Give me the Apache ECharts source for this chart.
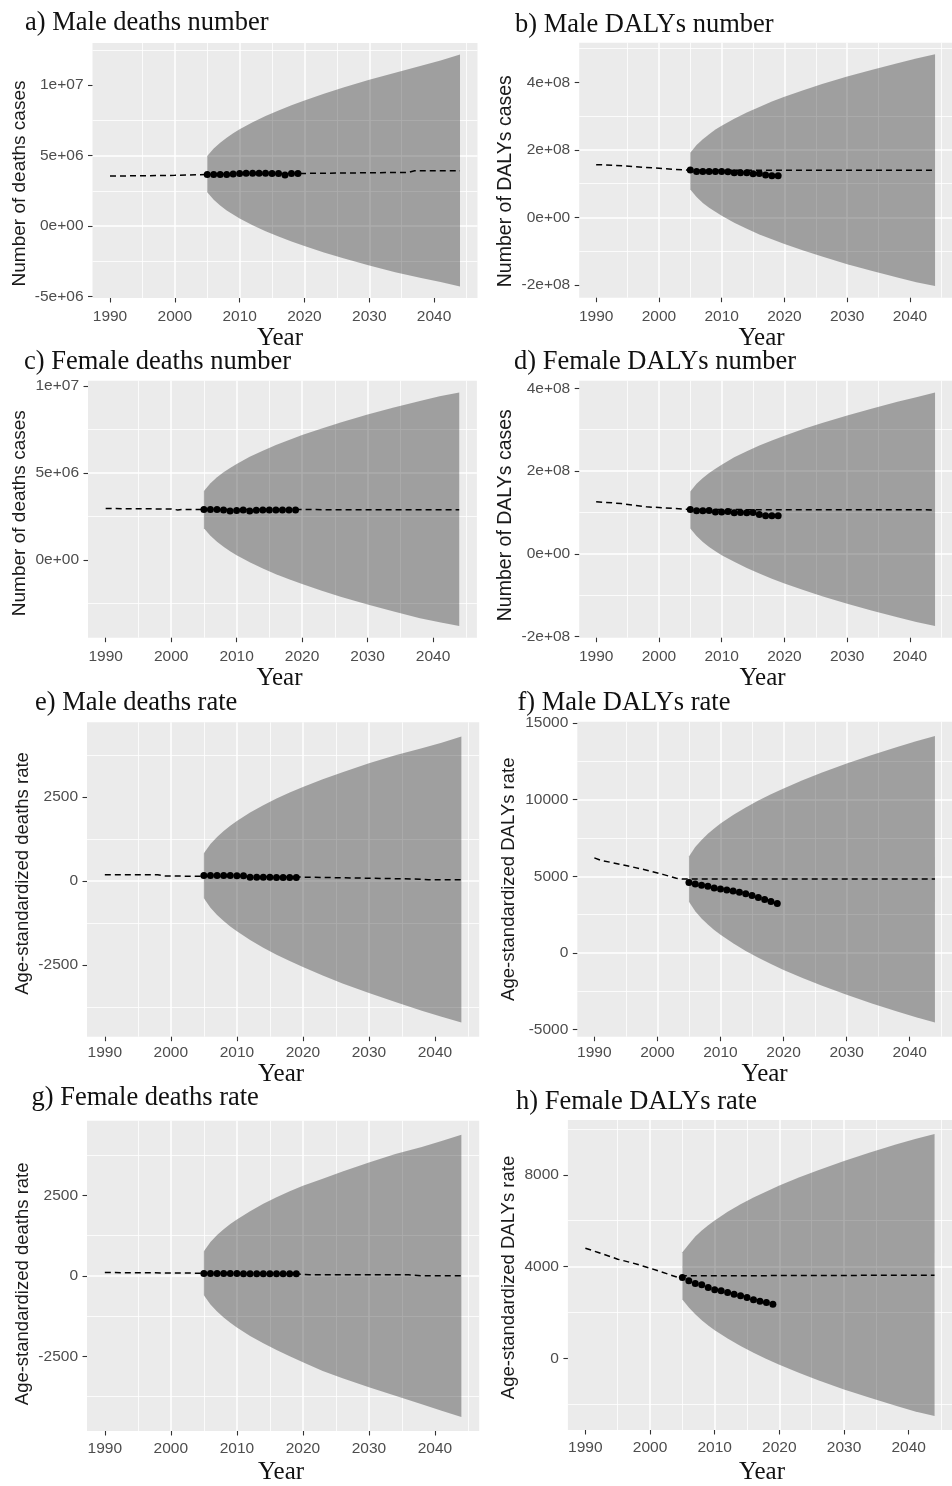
<!DOCTYPE html>
<html>
<head>
<meta charset="utf-8">
<script src="https://cdn.jsdelivr.net/npm/echarts@6/dist/echarts.min.js"></script>
<style>
  html, body { margin: 0; padding: 0; background: #ffffff; }
  #chart { width: 952px; height: 1486px; }
</style>
</head>
<body>
<div id="chart"></div>
<script>
// ---------- data ----------
// years at which the forecast interval is sampled
const bandYears = [2005, 2006, 2007, 2008, 2009, 2010, 2012, 2014, 2016, 2018, 2020, 2023, 2026, 2030, 2034, 2038, 2041, 2044];
// observed years (black points)
const pointYears = [2005, 2006, 2007, 2008, 2009, 2010, 2011, 2012, 2013, 2014, 2015, 2016, 2017, 2018, 2019];

// a) Male deaths number
const maleDeathsUpper = [4.98e6, 5.51e6, 5.92e6, 6.27e6, 6.59e6, 6.86e6, 7.36e6, 7.80e6, 8.20e6, 8.57e6, 8.91e6, 9.38e6, 9.82e6, 10.37e6, 10.88e6, 11.37e6, 11.75e6, 12.16e6];
const maleDeathsLower = [2.40e6, 1.87e6, 1.46e6, 1.11e6, 0.82e6, 0.54e6, 0.06e6, -0.36e6, -0.74e6, -1.09e6, -1.41e6, -1.86e6, -2.28e6, -2.79e6, -3.26e6, -3.67e6, -3.95e6, -4.27e6];
const maleDeathsTrend = [[1990, 3.55e6], [2000, 3.60e6], [2005, 3.66e6], [2020, 3.74e6], [2036, 3.81e6], [2037, 3.93e6], [2044, 3.93e6]];
const maleDeathsPoints = [3.66e6, 3.66e6, 3.66e6, 3.67e6, 3.69e6, 3.74e6, 3.75e6, 3.75e6, 3.75e6, 3.75e6, 3.74e6, 3.73e6, 3.63e6, 3.73e6, 3.74e6];
const maleDeathsTicks = [-5e6, 0, 5e6, 1e7];
const maleDeathsTickLabels = ['-5e+06', '0e+00', '5e+06', '1e+07'];

// b) Male DALYs number
const maleDalysUpper = [1.915e8, 2.141e8, 2.314e8, 2.46e8, 2.599e8, 2.715e8, 2.921e8, 3.103e8, 3.268e8, 3.429e8, 3.57e8, 3.766e8, 3.946e8, 4.169e8, 4.375e8, 4.568e8, 4.705e8, 4.83e8];
const maleDalysLower = [0.825e8, 0.599e8, 0.426e8, 0.28e8, 0.161e8, 0.045e8, -0.161e8, -0.343e8, -0.508e8, -0.649e8, -0.79e8, -0.986e8, -1.166e8, -1.389e8, -1.595e8, -1.788e8, -1.925e8, -2.04e8];
const maleDalysTrend = [[1990, 1.56e8], [1993, 1.54e8], [2005, 1.39e8], [2044, 1.39e8]];
const maleDalysPoints = [1.40e8, 1.36e8, 1.36e8, 1.36e8, 1.36e8, 1.36e8, 1.35e8, 1.32e8, 1.32e8, 1.32e8, 1.29e8, 1.30e8, 1.25e8, 1.23e8, 1.23e8];
const maleDalysTicks = [-2e8, 0, 2e8, 4e8];
const maleDalysTickLabels = ['-2e+08', '0e+00', '2e+08', '4e+08'];

// c) Female deaths number
const femaleDeathsUpper = [3.98e6, 4.42e6, 4.76e6, 5.05e6, 5.30e6, 5.53e6, 5.94e6, 6.29e6, 6.62e6, 6.91e6, 7.19e6, 7.57e6, 7.93e6, 8.37e6, 8.77e6, 9.15e6, 9.42e6, 9.64e6];
const femaleDeathsLower = [1.84e6, 1.40e6, 1.06e6, 0.77e6, 0.52e6, 0.29e6, -0.12e6, -0.47e6, -0.80e6, -1.09e6, -1.37e6, -1.75e6, -2.11e6, -2.55e6, -2.95e6, -3.33e6, -3.56e6, -3.78e6];
const femaleDeathsTrend = [[1990, 2.97e6], [2000, 2.94e6], [2001, 2.89e6], [2002, 2.92e6], [2005, 2.91e6], [2044, 2.90e6]];
const femaleDeathsPoints = [2.91e6, 2.91e6, 2.91e6, 2.89e6, 2.83e6, 2.85e6, 2.89e6, 2.83e6, 2.87e6, 2.89e6, 2.89e6, 2.89e6, 2.89e6, 2.89e6, 2.89e6];
const femaleDeathsTicks = [0, 5e6, 1e7];
const femaleDeathsTickLabels = ['0e+00', '5e+06', '1e+07'];

// d) Female DALYs number
const femaleDalysUpper = [1.506e8, 1.691e8, 1.832e8, 1.952e8, 2.057e8, 2.152e8, 2.331e8, 2.48e8, 2.615e8, 2.739e8, 2.854e8, 3.014e8, 3.162e8, 3.344e8, 3.513e8, 3.671e8, 3.783e8, 3.90e8];
const femaleDalysLower = [0.614e8, 0.429e8, 0.288e8, 0.168e8, 0.063e8, -0.032e8, -0.191e8, -0.34e8, -0.475e8, -0.599e8, -0.714e8, -0.874e8, -1.022e8, -1.204e8, -1.373e8, -1.531e8, -1.643e8, -1.743e8];
const femaleDalysTrend = [[1990, 1.26e8], [1994, 1.215e8], [1998, 1.135e8], [2000, 1.12e8], [2005, 1.07e8], [2044, 1.062e8]];
const femaleDalysPoints = [1.07e8, 1.04e8, 1.04e8, 1.05e8, 1.01e8, 1.01e8, 1.02e8, 0.99e8, 1.00e8, 0.99e8, 1.00e8, 0.95e8, 0.92e8, 0.92e8, 0.92e8];
const femaleDalysTicks = [-2e8, 0, 2e8, 4e8];
const femaleDalysTickLabels = ['-2e+08', '0e+00', '2e+08', '4e+08'];

// e) Male deaths rate
const maleDeathRateUpper = [820, 1095, 1306, 1484, 1640, 1781, 2030, 2249, 2446, 2627, 2795, 3020, 3233, 3496, 3735, 3947, 4110, 4291];
const maleDeathRateLower = [-520, -799, -1014, -1196, -1356, -1501, -1760, -1989, -2196, -2387, -2565, -2820, -3053, -3336, -3605, -3867, -4040, -4212];
const maleDeathRateTrend = [[1990, 180], [1998, 180], [1999, 145], [2005, 135], [2020, 110], [2038, 50], [2039, 30], [2044, 30]];
const maleDeathRatePoints = [160, 160, 160, 160, 160, 150, 150, 110, 110, 110, 110, 100, 100, 100, 100];
const maleDeathRateTicks = [-2500, 0, 2500];
const maleDeathRateTickLabels = ['-2500', '0', '2500'];

// f) Male DALYs rate
const maleDalyRateUpper = [6290, 6903, 7373, 7770, 8119, 8435, 8996, 9490, 9937, 10348, 10730, 11261, 11752, 12357, 12916, 13440, 13812, 14150];
const maleDalyRateLower = [3330, 2717, 2247, 1850, 1501, 1185, 624, 130, -317, -728, -1110, -1641, -2132, -2737, -3296, -3820, -4192, -4534];
const maleDalyRateTrend = [[1990, 6200], [1991, 6045], [1995, 5700], [1998, 5430], [2001, 5105], [2003, 4870], [2004, 4820], [2044, 4820]];
const maleDalyRatePoints = [4600, 4500, 4410, 4340, 4240, 4170, 4100, 4040, 3950, 3860, 3740, 3620, 3480, 3360, 3230];
const maleDalyRateTicks = [-5000, 0, 5000, 10000, 15000];
const maleDalyRateTickLabels = ['-5000', '0', '5000', '10000', '15000'];

// g) Female deaths rate
const femaleDeathRateUpper = [765, 1049, 1266, 1448, 1608, 1753, 2009, 2236, 2441, 2628, 2795, 3016, 3243, 3523, 3782, 3999, 4190, 4380];
const femaleDeathRateLower = [-605, -889, -1106, -1292, -1456, -1603, -1865, -2096, -2305, -2498, -2685, -2956, -3183, -3463, -3722, -3989, -4190, -4380];
const femaleDeathRateTrend = [[1990, 103], [2005, 82], [2019, 62], [2021, 31], [2036, 31], [2038, 0], [2044, 0]];
const femaleDeathRatePoints = [75, 72, 72, 70, 70, 70, 68, 68, 66, 66, 64, 64, 62, 62, 62];
const femaleDeathRateTicks = [-2500, 0, 2500];
const femaleDeathRateTickLabels = ['-2500', '0', '2500'];

// h) Female DALYs rate
const femaleDalyRateUpper = [4630, 4979, 5309, 5570, 5800, 6008, 6388, 6713, 7008, 7278, 7530, 7880, 8203, 8602, 8970, 9315, 9560, 9772];
const femaleDalyRateLower = [2570, 2221, 1931, 1670, 1440, 1232, 872, 547, 252, -18, -270, -620, -943, -1342, -1710, -2055, -2300, -2497];
const femaleDalyRateTrend = [[1990, 4805], [1992, 4617], [1995, 4326], [1998, 4108], [2001, 3847], [2004, 3560], [2005, 3600], [2044, 3630]];
const femaleDalyRatePoints = [3528, 3383, 3267, 3209, 3093, 2992, 2949, 2875, 2803, 2730, 2657, 2555, 2497, 2439, 2366];
const femaleDalyRateTicks = [0, 4000, 8000];
const femaleDalyRateTickLabels = ['0', '4000', '8000'];

// ---------- panel definitions ----------
const panels = [
  { title: 'a) Male deaths number', yName: 'Number of deaths cases', upper: maleDeathsUpper, lower: maleDeathsLower, trend: maleDeathsTrend, points: maleDeathsPoints, ticks: maleDeathsTicks, tickLabels: maleDeathsTickLabels },
  { title: 'b) Male DALYs number', yName: 'Number of DALYs cases', upper: maleDalysUpper, lower: maleDalysLower, trend: maleDalysTrend, points: maleDalysPoints, ticks: maleDalysTicks, tickLabels: maleDalysTickLabels },
  { title: 'c) Female deaths number', yName: 'Number of deaths cases', upper: femaleDeathsUpper, lower: femaleDeathsLower, trend: femaleDeathsTrend, points: femaleDeathsPoints, ticks: femaleDeathsTicks, tickLabels: femaleDeathsTickLabels },
  { title: 'd) Female DALYs number', yName: 'Number of DALYs cases', upper: femaleDalysUpper, lower: femaleDalysLower, trend: femaleDalysTrend, points: femaleDalysPoints, ticks: femaleDalysTicks, tickLabels: femaleDalysTickLabels },
  { title: 'e) Male deaths rate', yName: 'Age-standardized deaths rate', upper: maleDeathRateUpper, lower: maleDeathRateLower, trend: maleDeathRateTrend, points: maleDeathRatePoints, ticks: maleDeathRateTicks, tickLabels: maleDeathRateTickLabels },
  { title: 'f) Male DALYs rate', yName: 'Age-standardized DALYs rate', upper: maleDalyRateUpper, lower: maleDalyRateLower, trend: maleDalyRateTrend, points: maleDalyRatePoints, ticks: maleDalyRateTicks, tickLabels: maleDalyRateTickLabels },
  { title: 'g) Female deaths rate', yName: 'Age-standardized deaths rate', upper: femaleDeathRateUpper, lower: femaleDeathRateLower, trend: femaleDeathRateTrend, points: femaleDeathRatePoints, ticks: femaleDeathRateTicks, tickLabels: femaleDeathRateTickLabels },
  { title: 'h) Female DALYs rate', yName: 'Age-standardized DALYs rate', upper: femaleDalyRateUpper, lower: femaleDalyRateLower, trend: femaleDalyRateTrend, points: femaleDalyRatePoints, ticks: femaleDalyRateTicks, tickLabels: femaleDalyRateTickLabels }
];

const yearTicks = [1990, 2000, 2010, 2020, 2030, 2040];

// ---------- layout (pixels) ----------
// grid: [left, top, width, height]; nameShift moves the y title down (+) or up (-);
// yearShift moves "Year" left (+) or right (-); labelMargin is the year-label offset
const layout = [
  { grid: [92.5, 43, 385, 255],        titlePos: [25, 10],       nameGap: 63,   nameSize: 19,   nameShift: 13,  yearGap: 20, yearShift: 5,  labelMargin: 11 },
  { grid: [579.2, 42.7, 385.3, 255],   titlePos: [515, 12],      nameGap: 64,   nameSize: 19.5, nameShift: 11,  yearGap: 20, yearShift: 4,  labelMargin: 11 },
  { grid: [88, 380.7, 388.9, 257],     titlePos: [24, 348.5],    nameGap: 59,   nameSize: 19,   nameShift: 4,   yearGap: 18, yearShift: 3,  labelMargin: 11 },
  { grid: [579.2, 380.7, 385.3, 257],  titlePos: [514, 348.5],   nameGap: 64,   nameSize: 19.5, nameShift: 6,   yearGap: 18, yearShift: 3,  labelMargin: 11 },
  { grid: [87, 722.3, 392.2, 314.4],   titlePos: [35, 690],      nameGap: 55,   nameSize: 18.5, nameShift: -6,  yearGap: 22, yearShift: 2,  labelMargin: 8 },
  { grid: [577.3, 721.7, 388.5, 315],  titlePos: [517.5, 690],   nameGap: 58.5, nameSize: 18.5, nameShift: 0,   yearGap: 23, yearShift: 0,  labelMargin: 8 },
  { grid: [87, 1120.7, 392.2, 313.6],  titlePos: [31.5, 1084.5], nameGap: 55,   nameSize: 18.5, nameShift: 8,   yearGap: 29, yearShift: 2,  labelMargin: 10 },
  { grid: [567.9, 1120, 398.8, 313.3], titlePos: [516, 1089],    nameGap: 49,   nameSize: 18.5, nameShift: 2.5, yearGap: 30, yearShift: -2, labelMargin: 10 }
];

// ggplot-style 5% expansion of a data range
function expand(values) {
  const lo = Math.min(...values);
  const hi = Math.max(...values);
  const pad = (hi - lo) * 0.05;
  return [lo - pad, hi + pad];
}

const SANS = 'Liberation Sans, Arial, sans-serif';
const SERIF = 'Liberation Serif, Times New Roman, serif';

const option = {
  animation: false,
  backgroundColor: '#ffffff',
  title: [], grid: [], xAxis: [], yAxis: [], series: []
};

panels.forEach((p, i) => {
  const L = layout[i];
  const allYears = bandYears.concat(pointYears, p.trend.map(d => d[0]));
  const allValues = p.upper.concat(p.lower, p.points, p.trend.map(d => d[1]));
  const xr = expand(allYears);
  const yr = expand(allValues);
  const yStep = p.ticks[1] - p.ticks[0];
  const ns = L.nameShift, ys = L.yearShift;

  option.title.push({
    text: p.title, left: L.titlePos[0], top: L.titlePos[1], padding: 0,
    textStyle: { fontFamily: SERIF, fontSize: 26.5, fontWeight: 'normal', color: '#111111' }
  });

  option.grid.push({
    left: L.grid[0], top: L.grid[1], width: L.grid[2], height: L.grid[3],
    show: true, backgroundColor: '#ebebeb', borderWidth: 0, containLabel: false
  });

  option.xAxis.push({
    type: 'value', gridIndex: i, min: xr[0], max: xr[1],
    minInterval: 10, maxInterval: 10,
    name: 'Year', nameLocation: 'middle', nameGap: L.yearGap,
    nameTextStyle: {
      fontFamily: SERIF, fontSize: 25, color: '#111111',
      padding: ys >= 0 ? [0, 2 * ys, 0, 0] : [0, 0, 0, -2 * ys]
    },
    axisLine: { show: false, onZero: false },
    axisTick: { show: true, length: 4.5, customValues: yearTicks, lineStyle: { color: '#333333', width: 1.1 } },
    axisLabel: { customValues: yearTicks, margin: L.labelMargin, fontFamily: SANS, fontSize: 15.5, color: '#4d4d4d', formatter: v => String(v) },
    splitLine: { show: true, showMinLine: false, showMaxLine: false, lineStyle: { color: '#ffffff', width: 1.5 } },
    minorTick: { show: false, splitNumber: 2 },
    minorSplitLine: { show: true, lineStyle: { color: '#ffffff', width: 0.8 } }
  });

  option.yAxis.push({
    type: 'value', gridIndex: i, min: yr[0], max: yr[1],
    minInterval: yStep, maxInterval: yStep,
    name: p.yName, nameLocation: 'middle', nameGap: L.nameGap,
    nameTextStyle: {
      fontFamily: SANS, fontSize: L.nameSize, color: '#1a1a1a',
      padding: ns >= 0 ? [0, 2 * ns, 0, 0] : [0, 0, 0, -2 * ns]
    },
    axisLine: { show: false, onZero: false },
    axisTick: { show: true, length: 4.5, customValues: p.ticks, lineStyle: { color: '#333333', width: 1.1 } },
    axisLabel: {
      customValues: p.ticks, margin: 9, fontFamily: SANS, fontSize: 15.5, color: '#4d4d4d',
      formatter: v => {
        const k = p.ticks.findIndex(t => Math.abs(t - v) < Math.abs(yStep) * 1e-6);
        return k >= 0 ? p.tickLabels[k] : '';
      }
    },
    splitLine: { show: true, showMinLine: false, showMaxLine: false, lineStyle: { color: '#ffffff', width: 1.5 } },
    minorTick: { show: false, splitNumber: 2 },
    minorSplitLine: { show: true, lineStyle: { color: '#ffffff', width: 0.8 } }
  });

  // forecast interval: one polygon along the upper edge and back along the lower edge
  option.series.push({
    type: 'custom', xAxisIndex: i, yAxisIndex: i, silent: true, z: 1,
    data: bandYears.map((y, k) => [y, p.lower[k], p.upper[k]]),
    encode: { x: 0, y: [1, 2] },
    renderItem: (params, api) => {
      if (params.dataIndex !== 0) return null;
      const top = bandYears.map((y, k) => api.coord([y, p.upper[k]]));
      const bottom = bandYears.map((y, k) => api.coord([y, p.lower[k]])).reverse();
      return {
        type: 'polygon',
        shape: { points: top.concat(bottom) },
        style: { fill: 'rgba(0,0,0,0.32)' }
      };
    }
  });
  // fitted / forecast trend
  option.series.push({
    type: 'line', xAxisIndex: i, yAxisIndex: i, data: p.trend,
    symbol: 'none', silent: true, z: 3,
    lineStyle: { color: '#000000', width: 1.5, type: [6, 4] }
  });
  // observed values
  option.series.push({
    type: 'scatter', xAxisIndex: i, yAxisIndex: i,
    data: pointYears.map((y, k) => [y, p.points[k]]),
    symbol: 'circle', symbolSize: 7, silent: true, z: 4,
    itemStyle: { color: '#000000', opacity: 1 }
  });
});

const chart = echarts.init(document.getElementById('chart'), null, { renderer: 'canvas' });
chart.setOption(option);
</script>
</body>
</html>
